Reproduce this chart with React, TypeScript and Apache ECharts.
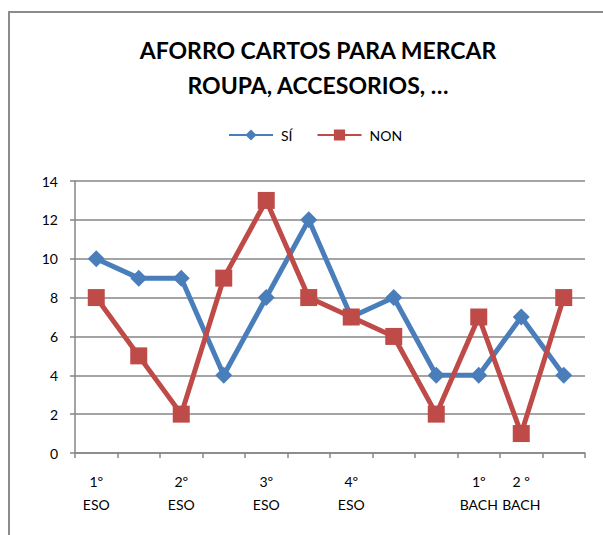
import React, { useEffect, useRef } from "react";
import * as echarts from "echarts";

const categories = ["1º\nESO", "", "2º\nESO", "", "3º\nESO", "", "4º\nESO", "", "", "1º\nBACH", "2 º\nBACH", ""];
const siValues = [10, 9, 9, 4, 8, 12, 7, 8, 4, 4, 7, 4];
const nonValues = [8, 5, 2, 9, 13, 8, 7, 6, 2, 7, 1, 8];
const yTicks = { min: 0, max: 14, interval: 2 };
const titleText = "AFORRO CARTOS PARA MERCAR\nROUPA, ACCESORIOS, …";

export default function App() {
  const ref = useRef<HTMLDivElement>(null);
  useEffect(() => {
    if (!ref.current) return;
    const chart = echarts.init(ref.current, null, { renderer: "svg" });
    const font = "Lato, 'Open Sans', sans-serif";
    chart.setOption({
      animation: false,
      backgroundColor: "#ffffff",
      graphic: [
        {
          type: "rect",
          shape: { x: 9, y: 12, width: 610, height: 540 },
          style: { fill: "none", stroke: "#8c8c8c", lineWidth: 2 },
          silent: true,
        },
      ],
      title: {
        text: titleText,
        left: 313,
        textAlign: "center",
        top: 27,
        textStyle: {
          fontFamily: font,
          fontWeight: "bold",
          fontSize: 23,
          lineHeight: 35,
          color: "#000",
        },
      },
      legend: {
        top: 123,
        left: 223,
        itemWidth: 44,
        itemHeight: 14,
        itemGap: 24,
        textStyle: { fontFamily: font, fontSize: 14, color: "#000", padding: [0, 0, 0, 3] },
        data: ["SÍ", "NON"],
      },
      grid: { left: 75, right: 18, top: 181, bottom: 82, containLabel: false },
      xAxis: {
        type: "category",
        data: categories,
        boundaryGap: true,
        axisLine: { lineStyle: { color: "#868686", width: 1.5 } },
        axisTick: { show: true, interval: 0, length: 5, lineStyle: { color: "#868686", width: 1.5 } },
        axisLabel: {
          interval: 0,
          margin: 17,
          fontFamily: font,
          fontSize: 14,
          lineHeight: 23,
          color: "#000",
        },
      },
      yAxis: {
        type: "value",
        min: yTicks.min,
        max: yTicks.max,
        interval: yTicks.interval,
        axisLine: { show: true, lineStyle: { color: "#868686", width: 1.5 } },
        axisTick: { show: true, length: 5, lineStyle: { color: "#868686", width: 1.5 } },
        axisLabel: { fontFamily: font, fontSize: 14, color: "#000", margin: 17 },
        splitLine: { lineStyle: { color: "#868686", width: 1.5 } },
      },
      series: [
        {
          name: "SÍ",
          type: "line",
          data: siValues,
          symbol: "diamond",
          symbolSize: 17,
          color: "#4A7EBB",
          lineStyle: { width: 5, color: "#4A7EBB" },
          itemStyle: { color: "#4A7EBB" },
          z: 2,
        },
        {
          name: "NON",
          type: "line",
          data: nonValues,
          symbol: "rect",
          symbolSize: 17,
          color: "#BE4B48",
          lineStyle: { width: 5, color: "#BE4B48" },
          itemStyle: { color: "#BE4B48" },
          z: 3,
        },
      ],
    });
    return () => chart.dispose();
  }, []);
  return (
    <div
      ref={ref}
      style={{ position: "fixed", left: 0, top: 0, width: 603, height: 535 }}
    />
  );
}
